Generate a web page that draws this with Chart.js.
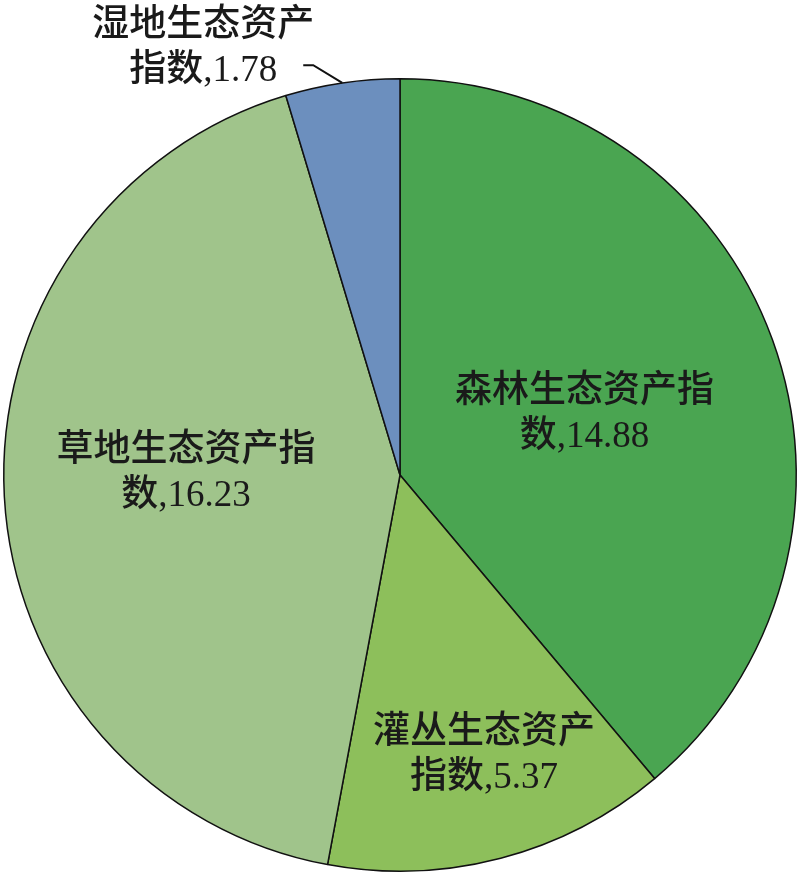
<!DOCTYPE html>
<html>
<head>
<meta charset="utf-8">
<title>生态资产指数构成</title>
<script src="https://cdn.jsdelivr.net/npm/chart.js"></script>
<style>
    html, body { margin: 0; padding: 0; background: #fff; }
    .chart-box { width: 800px; height: 875px; position: relative; }
</style>
</head>
<body>
<div class="chart-box">
    <canvas id="pieChart"></canvas>
</div>
<script>
// data
const categories = ['森林生态资产指数', '灌丛生态资产指数', '草地生态资产指数', '湿地生态资产指数'];
const values = [14.88, 5.37, 16.23, 1.78];
const sliceColors = ['#4aa551', '#8dbf5b', '#a0c48b', '#6c8fbe'];

// how each label is broken into two lines (first line = chars before the split)
const labelSplit = [7, 6, 7, 6];
// label placement: fraction of radius and angle shift (deg) from the slice middle
const labelRadius = [0.49, 0.74, 0.54, 1.185];
const labelShift = [1.8, -1.9, 3.4, -16.4];

const FONT = '500 37px "Liberation Serif", "Noto Sans CJK SC", serif';
const LINE_H = 45;

const sliceLabels = {
    id: 'sliceLabels',
    afterDatasetsDraw(chart) {
        const ctx = chart.ctx;
        const meta = chart.getDatasetMeta(0);
        ctx.save();
        ctx.font = FONT;
        ctx.fillStyle = '#1a1a1a';
        ctx.textAlign = 'center';
        ctx.textBaseline = 'middle';
        meta.data.forEach((arc, i) => {
            const mid = (arc.startAngle + arc.endAngle) / 2 + labelShift[i] * Math.PI / 180;
            const r = arc.outerRadius * labelRadius[i];
            const cx = arc.x + Math.cos(mid) * r;
            const cy = arc.y + Math.sin(mid) * r;
            const name = categories[i];
            const line1 = name.slice(0, labelSplit[i]);
            const line2 = name.slice(labelSplit[i]) + ',' + values[i].toFixed(2);
            ctx.fillText(line1, cx, cy - LINE_H / 2);
            ctx.fillText(line2, cx, cy + LINE_H / 2);

            // outside label gets a leader line to the slice
            if (labelRadius[i] > 1) {
                const w2 = ctx.measureText(line2).width;
                const am = (arc.startAngle + arc.endAngle) / 2;
                const ex = arc.x + Math.cos(am) * arc.outerRadius;
                const ey = arc.y + Math.sin(am) * arc.outerRadius;
                const sx = cx + w2 / 2 + 26;
                const sy = cy + LINE_H / 2 - 6;
                ctx.beginPath();
                ctx.moveTo(sx, sy);
                ctx.lineTo(sx + 10, sy);
                ctx.lineTo(ex, ey);
                ctx.lineWidth = 2;
                ctx.strokeStyle = '#111';
                ctx.stroke();
            }
        });
        ctx.restore();
    }
};

new Chart(document.getElementById('pieChart'), {
    type: 'pie',
    data: {
        labels: categories,
        datasets: [{
            data: values,
            backgroundColor: sliceColors,
            borderColor: '#111',
            borderWidth: 1.5
        }]
    },
    options: {
        responsive: true,
        maintainAspectRatio: false,
        animation: false,
        layout: { padding: { top: 78, bottom: 3, left: 3, right: 3 } },
        plugins: {
            legend: { display: false },
            tooltip: { enabled: false }
        }
    },
    plugins: [sliceLabels]
});
</script>
</body>
</html>
